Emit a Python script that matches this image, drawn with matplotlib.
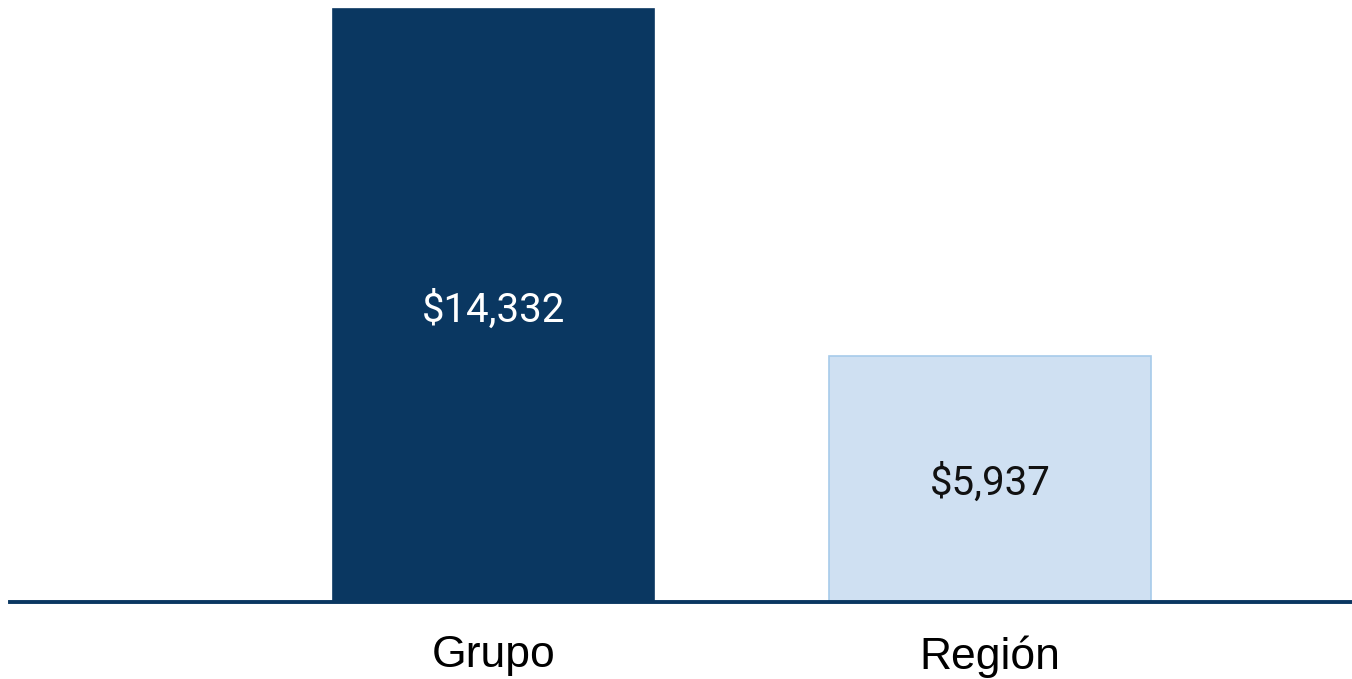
import matplotlib.pyplot as plt

categories = ["Grupo", "Región"]
values = [14332, 5937]
value_labels = ["$14,332", "$5,937"]

W, H = 1352, 679
fig = plt.figure(figsize=(W / 100, H / 100), dpi=100)
ax = fig.add_axes([10 / W, (H - 602) / H, (W - 10) / W, 602 / H])

x = range(len(categories))
ax.bar(x, values, width=0.647, color=["#0a3761", "#cfe0f2"],
       edgecolor=["#0a3761", "#a7cbea"], linewidth=1.2, zorder=2)

for i, v in enumerate(values):
    ax.text(i, v / 2, value_labels[i], ha="center", va="center_baseline",
            fontsize=29, family="Roboto",
            color="white" if i == 0 else "#111111", zorder=3)

ax.set_xlim(-0.974, 1.729)
ax.set_ylim(0, 14549)
ax.set_xticks(list(x))
ax.set_xticklabels(categories, fontsize=32, family="Liberation Sans")
ax.tick_params(axis="x", length=0, pad=24)
ax.set_yticks([])
for s in ["top", "left", "right"]:
    ax.spines[s].set_visible(False)
ax.spines["bottom"].set_color("#0a3761")
ax.spines["bottom"].set_linewidth(2.8)
ax.spines["bottom"].set_zorder(4)

fig.savefig("out.png", dpi=100)
